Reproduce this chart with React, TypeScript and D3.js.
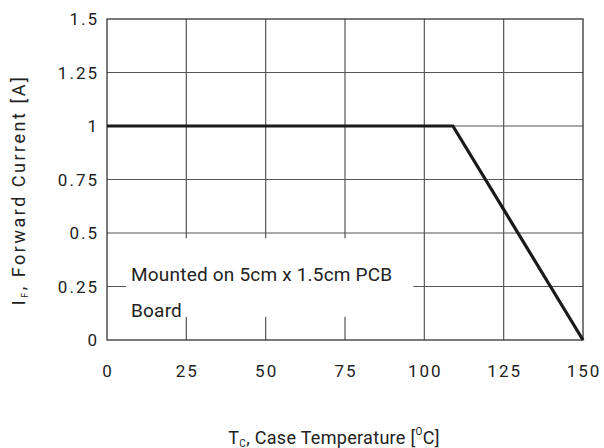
import React from "react";
import * as d3 from "d3";

const xTicks = [0, 25, 50, 75, 100, 125, 150];
const yTicks = [0, 0.25, 0.5, 0.75, 1, 1.25, 1.5];
const yTickLabels = ["0", "0.25", "0.5", "0.75", "1", "1.25", "1.5"];
const tempC = [0, 109, 150];
const currentA = [1, 1, 0];
const noteLines = ["Mounted on 5cm x 1.5cm PCB", "Board"];

const W = 604;
const H = 448;
const margin = { top: 19, right: 21, bottom: 108, left: 107 };
const font = "Roboto, Arial, sans-serif";

export default function App() {
  const x = d3.scaleLinear().domain([0, 150]).range([margin.left, W - margin.right]);
  const y = d3.scaleLinear().domain([0, 1.5]).range([H - margin.bottom, margin.top]);

  const line = d3
    .line<number>()
    .x((d) => x(d))
    .y((_, i) => y(currentA[i]));

  const boxX0 = x(6);
  const boxX1 = x(96.5);
  const boxY0 = y(0.475);
  const boxY1 = y(0.108);

  return (
    <svg
      width={W}
      height={H}
      style={{ position: "absolute", left: 0, top: 0, background: "#fff" }}
    >
      <g stroke="#555" strokeWidth={1.2}>
        {xTicks.slice(1, -1).map((t) => (
          <line key={"vx" + t} x1={x(t)} x2={x(t)} y1={y(0)} y2={y(1.5)} />
        ))}
        {yTicks.slice(1, -1).map((t) => (
          <line key={"hy" + t} x1={x(0)} x2={x(150)} y1={y(t)} y2={y(t)} />
        ))}
      </g>
      <rect x={boxX0} y={boxY0} width={boxX1 - boxX0} height={boxY1 - boxY0} fill="#fff" />
      <rect
        x={x(0)}
        y={y(1.5)}
        width={x(150) - x(0)}
        height={y(0) - y(1.5)}
        fill="none"
        stroke="#333"
        strokeWidth={1.3}
      />
      <path d={line(tempC) ?? ""} fill="none" stroke="#1a1a1a" strokeWidth={3.2} />

      <g fontFamily={font} fill="#222">
        {noteLines.map((s, i) => (
          <text key={s} x={boxX0 + 5} y={y(0.25) - 6 + i * 36} fontSize={19} letterSpacing={0.2}>
            {s}
          </text>
        ))}
        {yTicks.map((t, i) => (
          <text
            key={"yl" + t}
            x={margin.left - 8}
            y={y(t) + 6}
            textAnchor="end"
            fontSize={17}
            letterSpacing={2}
          >
            {yTickLabels[i]}
          </text>
        ))}
        {xTicks.map((t) => (
          <text
            key={"xl" + t}
            x={x(t) + 1}
            y={y(0) + 37}
            textAnchor="middle"
            fontSize={17}
            letterSpacing={2}
          >
            {t}
          </text>
        ))}
        <text x={334} y={444} textAnchor="middle" fontSize={18} letterSpacing={0.3}>
          T<tspan fontSize={10} dy={3}>C</tspan>
          <tspan dy={-3}>, Case Temperature [</tspan>
          <tspan fontSize={10} dy={-9}>O</tspan>
          <tspan dy={9}>C]</tspan>
        </text>
        <text
          transform={`translate(25, 190) rotate(-90)`}
          textAnchor="middle"
          fontSize={18}
          letterSpacing={2.5}
        >
          I<tspan fontSize={9} dy={3}>F</tspan>
          <tspan dy={-3}>, Forward Current  [A]</tspan>
        </text>
      </g>
    </svg>
  );
}
